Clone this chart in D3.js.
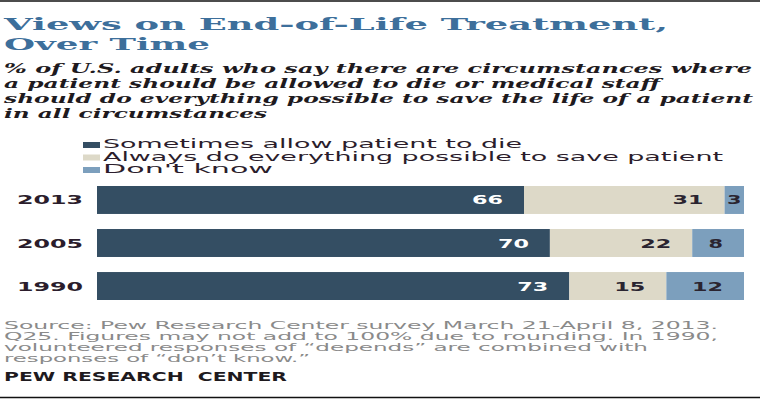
<!DOCTYPE html>
<html>
<head>
<meta charset="utf-8">
<script src="https://cdn.jsdelivr.net/npm/d3@7"></script>
<style>
  body { margin: 0; background: #fff; }
  svg { display: block; }
</style>
</head>
<body>
<script>
// DATA
var years = ["2013", "2005", "1990"];
var allowDie = [66, 70, 73];
var doEverything = [31, 22, 15];
var dontKnow = [3, 8, 12];
var seriesNames = ["Sometimes allow patient to die", "Always do everything possible to save patient", "Don't know"];
var seriesColors = ["#344e63", "#ddd9c8", "#7c9fbd"];
var labelColors = ["#ffffff", "#2a2430", "#2a2430"];

var titleLines = ["Views on End-of-Life Treatment,", "Over Time"];
var subtitleLines = [
  "% of U.S. adults who say there are circumstances where",
  "a patient should be allowed to die or medical staff",
  "should do everything possible to save the life of a patient",
  "in all circumstances"
];
var sourceLines = [
  "Source: Pew Research Center survey March 21-April 8, 2013.",
  "Q25. Figures may not add to 100% due to rounding. In 1990,",
  "volunteered responses of \u201cdepends\u201d are combined with",
  "responses of \u201cdon\u2019t know.\u201d"
];

var width = 760, height = 400;

var svg = d3.select("body").append("svg")
  .attr("width", width)
  .attr("height", height);

// top and bottom rules
svg.append("line").attr("x1", 0).attr("x2", width).attr("y1", 1).attr("y2", 1)
  .attr("stroke", "#111").attr("stroke-width", 1.5);
svg.append("line").attr("x1", 0).attr("x2", width).attr("y1", 397.5).attr("y2", 397.5)
  .attr("stroke", "#111").attr("stroke-width", 1.5);

// title
var titleY = [30, 50], titleW = [664, 206];
svg.selectAll("text.title").data(titleLines).enter().append("text")
  .attr("class", "title")
  .attr("x", 4)
  .attr("y", function(d, i) { return titleY[i]; })
  .attr("textLength", function(d, i) { return titleW[i]; })
  .attr("lengthAdjust", "spacingAndGlyphs")
  .style("font-family", "'DejaVu Serif', serif")
  .style("font-weight", "bold")
  .style("font-size", "17px")
  .attr("fill", "#3d6f9b")
  .text(function(d) { return d; });

// subtitle
var subY = [73, 88, 103, 118], subW = [748, 656, 749, 263];
svg.selectAll("text.sub").data(subtitleLines).enter().append("text")
  .attr("class", "sub")
  .attr("x", 4)
  .attr("y", function(d, i) { return subY[i]; })
  .attr("textLength", function(d, i) { return subW[i]; })
  .attr("lengthAdjust", "spacingAndGlyphs")
  .style("font-family", "'DejaVu Serif', serif")
  .style("font-style", "italic")
  .style("font-weight", "bold")
  .style("font-size", "13.5px")
  .attr("fill", "#1e1a1e")
  .text(function(d) { return d; });

// legend
var legY = [148, 160.5, 173], legW = [419, 620, 170];
var leg = svg.selectAll("g.leg").data(seriesNames).enter().append("g")
  .attr("class", "leg")
  .attr("transform", function(d, i) { return "translate(0," + legY[i] + ")"; });
leg.append("rect")
  .attr("x", 83).attr("y", -6).attr("width", 17).attr("height", 6)
  .attr("fill", function(d, i) { return seriesColors[i]; });
leg.append("text")
  .attr("x", 103)
  .attr("textLength", function(d, i) { return legW[i]; })
  .attr("lengthAdjust", "spacingAndGlyphs")
  .style("font-family", "'DejaVu Sans', sans-serif")
  .style("font-size", "12px")
  .attr("fill", "#2b1d2c")
  .text(function(d) { return d; });

// bars
var rows = years.map(function(y, i) {
  return { year: y, a: allowDie[i], b: doEverything[i], c: dontKnow[i] };
});
var stack = d3.stack().keys(["a", "b", "c"]);
var series = stack(rows);

var x = d3.scaleLinear().domain([0, 100]).range([97, 744]);
var y = d3.scaleBand().domain(years).range([186, 300]).paddingInner(0.35).paddingOuter(0);

var groups = svg.selectAll("g.series").data(series).enter().append("g")
  .attr("class", "series")
  .attr("fill", function(d, i) { return seriesColors[i]; });

groups.selectAll("rect").data(function(d) { return d; }).enter().append("rect")
  .attr("x", function(d) { return x(d[0]); })
  .attr("y", function(d) { return y(d.data.year); })
  .attr("width", function(d) { return x(d[1]) - x(d[0]); })
  .attr("height", y.bandwidth());

// value labels
groups.each(function(s, si) {
  d3.select(this).selectAll("text").data(s).enter().append("text")
    .attr("x", function(d) {
      var w = x(d[1]) - x(d[0]);
      return w < 30 ? (x(d[0]) + x(d[1])) / 2 : x(d[1]) - 21;
    })
    .attr("y", function(d) { return y(d.data.year) + y.bandwidth() / 2 + 4.5; })
    .attr("text-anchor", function(d) { return (x(d[1]) - x(d[0])) < 30 ? "middle" : "end"; })
    .attr("textLength", function(d) { return String(d[1] - d[0]).length * 16.5 - 2; })
    .attr("lengthAdjust", "spacingAndGlyphs")
    .style("font-family", "'DejaVu Sans', sans-serif")
    .style("font-weight", "bold")
    .style("font-size", "13px")
    .attr("fill", labelColors[si])
    .text(function(d) { return d[1] - d[0]; });
});

// year labels
svg.selectAll("text.year").data(years).enter().append("text")
  .attr("class", "year")
  .attr("x", 17)
  .attr("y", function(d) { return y(d) + y.bandwidth() / 2 + 4.5; })
  .attr("textLength", 66)
  .attr("lengthAdjust", "spacingAndGlyphs")
  .style("font-family", "'DejaVu Sans', sans-serif")
  .style("font-weight", "bold")
  .style("font-size", "13px")
  .attr("fill", "#2b1d2c")
  .text(function(d) { return d; });

// source
var srcY = [329, 340, 350.5, 361.5], srcW = [714, 714, 644, 306];
svg.selectAll("text.src").data(sourceLines).enter().append("text")
  .attr("class", "src")
  .attr("x", 4)
  .attr("y", function(d, i) { return srcY[i]; })
  .attr("textLength", function(d, i) { return srcW[i]; })
  .attr("lengthAdjust", "spacingAndGlyphs")
  .style("font-family", "'DejaVu Sans', sans-serif")
  .style("font-size", "10px")
  .attr("fill", "#8a8a8a")
  .text(function(d) { return d; });

svg.append("text")
  .attr("x", 4)
  .attr("y", 381)
  .attr("textLength", 283)
  .attr("lengthAdjust", "spacingAndGlyphs")
  .style("font-family", "'DejaVu Sans', sans-serif")
  .style("font-weight", "bold")
  .style("font-size", "11.5px")
  .style("white-space", "pre")
  .attr("fill", "#1e1a1e")
  .text("PEW RESEARCH  CENTER");
</script>
</body>
</html>
